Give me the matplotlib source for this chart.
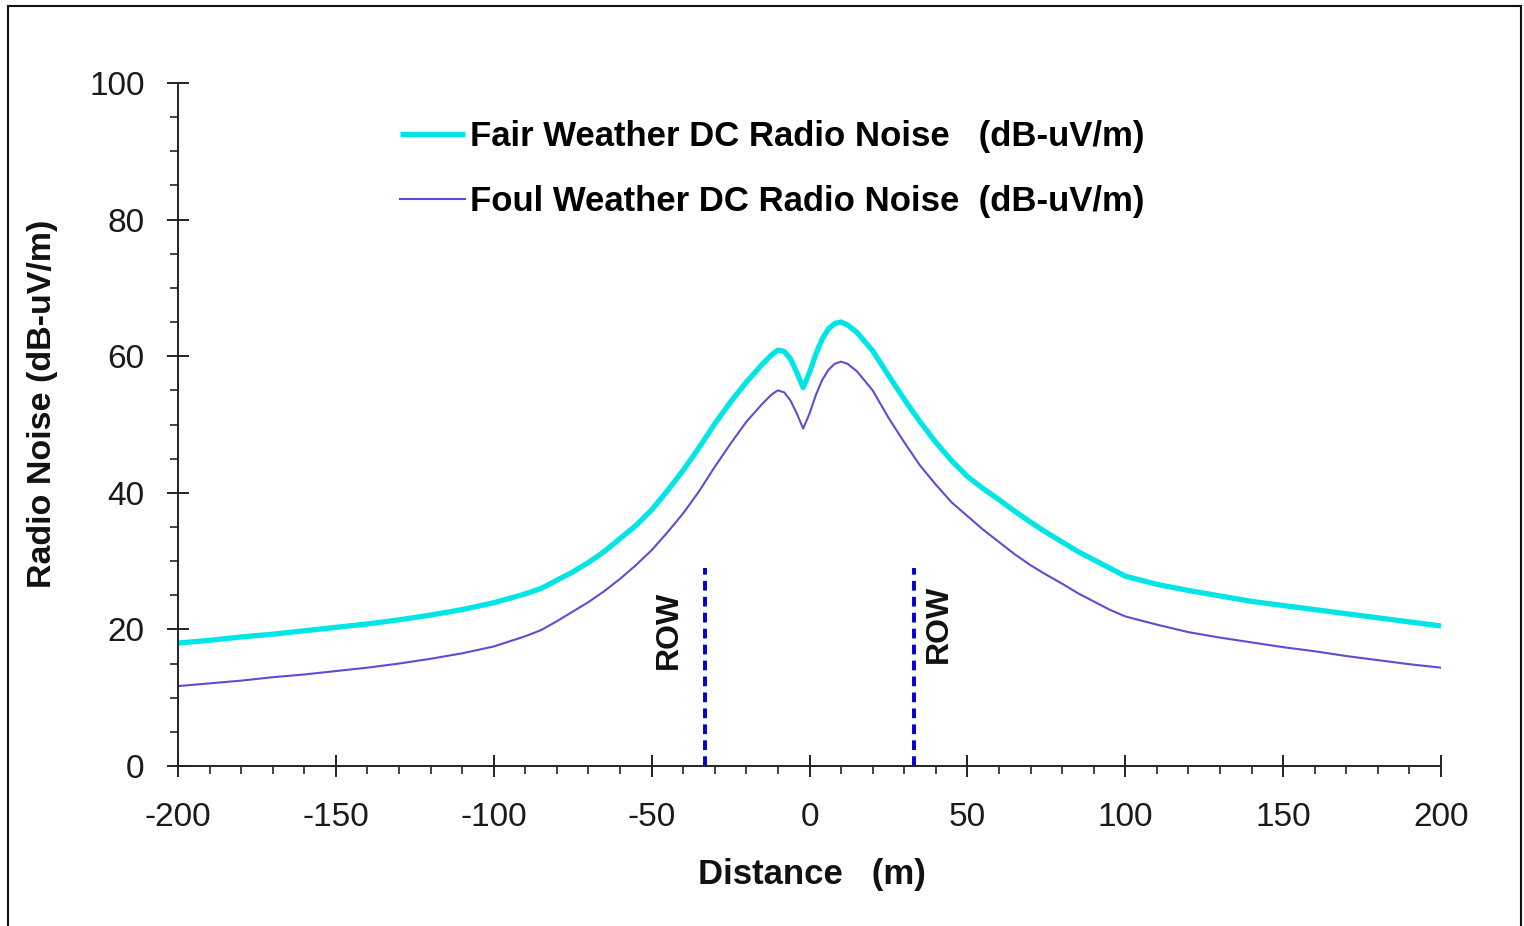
import matplotlib
matplotlib.use("Agg")
import matplotlib.pyplot as plt
from matplotlib.ticker import MultipleLocator
from matplotlib.patches import Rectangle

plt.rcParams['font.family'] = ['Liberation Sans', 'DejaVu Sans']
plt.rcParams['axes.unicode_minus'] = False

# distance from centreline (m) and radio noise levels (dB-uV/m)
distance = [-200, -190, -180, -170, -160, -150, -140, -130, -120, -110, -100, -90, -85,
            -80, -75, -70, -65, -60, -55, -50, -45, -40, -35, -30, -25, -20, -15, -12,
            -10, -8, -6, -4, -2, 0, 2, 4, 6, 8, 10, 12, 15, 20, 25, 30, 35, 40, 45,
            50, 55, 60, 65, 70, 75, 80, 85, 90, 95, 100, 110, 120, 130, 140, 150,
            160, 170, 180, 190, 200]
fair_noise = [18.0, 18.4, 18.9, 19.3, 19.8, 20.3, 20.8, 21.4, 22.1, 22.9, 23.9, 25.2, 26.0,
              27.2, 28.4, 29.8, 31.4, 33.3, 35.2, 37.5, 40.3, 43.3, 46.6, 50.1, 53.3, 56.2, 58.8, 60.2,
              60.9, 60.7, 59.6, 57.6, 55.4, 57.6, 60.3, 62.5, 64.0, 64.8, 65.0, 64.6, 63.5, 60.8, 57.2,
              53.7, 50.4, 47.4, 44.7, 42.4, 40.6, 39.0, 37.3, 35.7, 34.2, 32.8, 31.4, 30.2, 29.0, 27.8,
              26.6, 25.7, 24.9, 24.1, 23.5, 22.9, 22.3, 21.7, 21.1, 20.5]
foul_noise = [11.7, 12.1, 12.5, 13.0, 13.4, 13.9, 14.4, 15.0, 15.7, 16.5, 17.5, 19.0, 19.9,
              21.2, 22.6, 24.0, 25.6, 27.4, 29.4, 31.6, 34.2, 37.0, 40.2, 43.8, 47.2, 50.4, 53.0, 54.4,
              55.0, 54.7, 53.5, 51.6, 49.4, 51.6, 54.3, 56.5, 58.0, 58.9, 59.2, 58.9, 57.8, 55.0, 51.0,
              47.4, 44.0, 41.2, 38.6, 36.6, 34.6, 32.8, 31.0, 29.4, 28.0, 26.7, 25.3, 24.1, 22.9, 21.9,
              20.7, 19.6, 18.8, 18.1, 17.4, 16.8, 16.1, 15.5, 14.9, 14.4]

# right-of-way edges
row_edges = [-33, 33]
row_top = 29

fair_label = "Fair Weather DC Radio Noise   (dB-uV/m)"
foul_label = "Foul Weather DC Radio Noise  (dB-uV/m)"

fig = plt.figure(figsize=(15.24, 9.26), dpi=100)
ax = fig.add_axes([178 / 1524, 1 - 766 / 926, (1441 - 178) / 1524, (766 - 83) / 926])

ax.plot(distance, fair_noise, color='#00e5e5', lw=3.8, label=fair_label,
        solid_joinstyle='round', solid_capstyle='butt')
ax.plot(distance, foul_noise, color='#5a4fd0', lw=1.5, label=foul_label, solid_joinstyle='round')

for row in row_edges:
    ax.plot([row, row], [0, row_top], color='#0000d0', lw=2.8, ls='--', dashes=(2.5, 1.6))
ax.text(row_edges[0] - 11.5, 20, 'ROW', rotation=90, ha='center', va='center',
        fontsize=23, fontweight='bold', color='#111111')
ax.text(row_edges[1] + 8, 20.8, 'ROW', rotation=90, ha='center', va='center',
        fontsize=23, fontweight='bold', color='#111111')

ax.set_xlim(-200, 200)
ax.set_ylim(0, 100)
ax.xaxis.set_major_locator(MultipleLocator(50))
ax.xaxis.set_minor_locator(MultipleLocator(10))
ax.yaxis.set_major_locator(MultipleLocator(20))
ax.yaxis.set_minor_locator(MultipleLocator(5))

for side in ['top', 'right']:
    ax.spines[side].set_visible(False)
for side in ['left', 'bottom']:
    ax.spines[side].set_color('#222222')
    ax.spines[side].set_linewidth(1.4)

ax.tick_params(which='major', direction='inout', length=16, width=1.4, color='#222222',
               labelsize=24, labelcolor='#1a1a1a')
ax.tick_params(axis='y', which='major', pad=16)
ax.tick_params(axis='x', which='major', pad=18)
ax.tick_params(which='minor', direction='out', length=5.5, width=1.2, color='#222222')

ax.set_xlabel('Distance   (m)', fontsize=25, fontweight='bold', color='#111111')
ax.set_ylabel('Radio Noise (dB-uV/m)', fontsize=24.5, fontweight='bold', color='#111111')
ax.xaxis.set_label_coords(0.502, -0.135)
ax.yaxis.set_label_coords(-0.095, 0.53)

ax.legend(loc='upper left', bbox_to_anchor=(400 / 1524, 1 - 120 / 926),
          bbox_transform=fig.transFigure, frameon=False, borderpad=0, borderaxespad=0,
          handlelength=1.87, handletextpad=0.15, labelspacing=0.92,
          prop={'size': 25, 'weight': 'bold'})

fig.add_artist(Rectangle((8 / 1524, -0.05), (1521 - 8) / 1524, 1.05 - 6 / 926,
                         transform=fig.transFigure, fill=False, edgecolor='#111111', lw=1.5))

fig.savefig('out.png', dpi=100, facecolor='white')
